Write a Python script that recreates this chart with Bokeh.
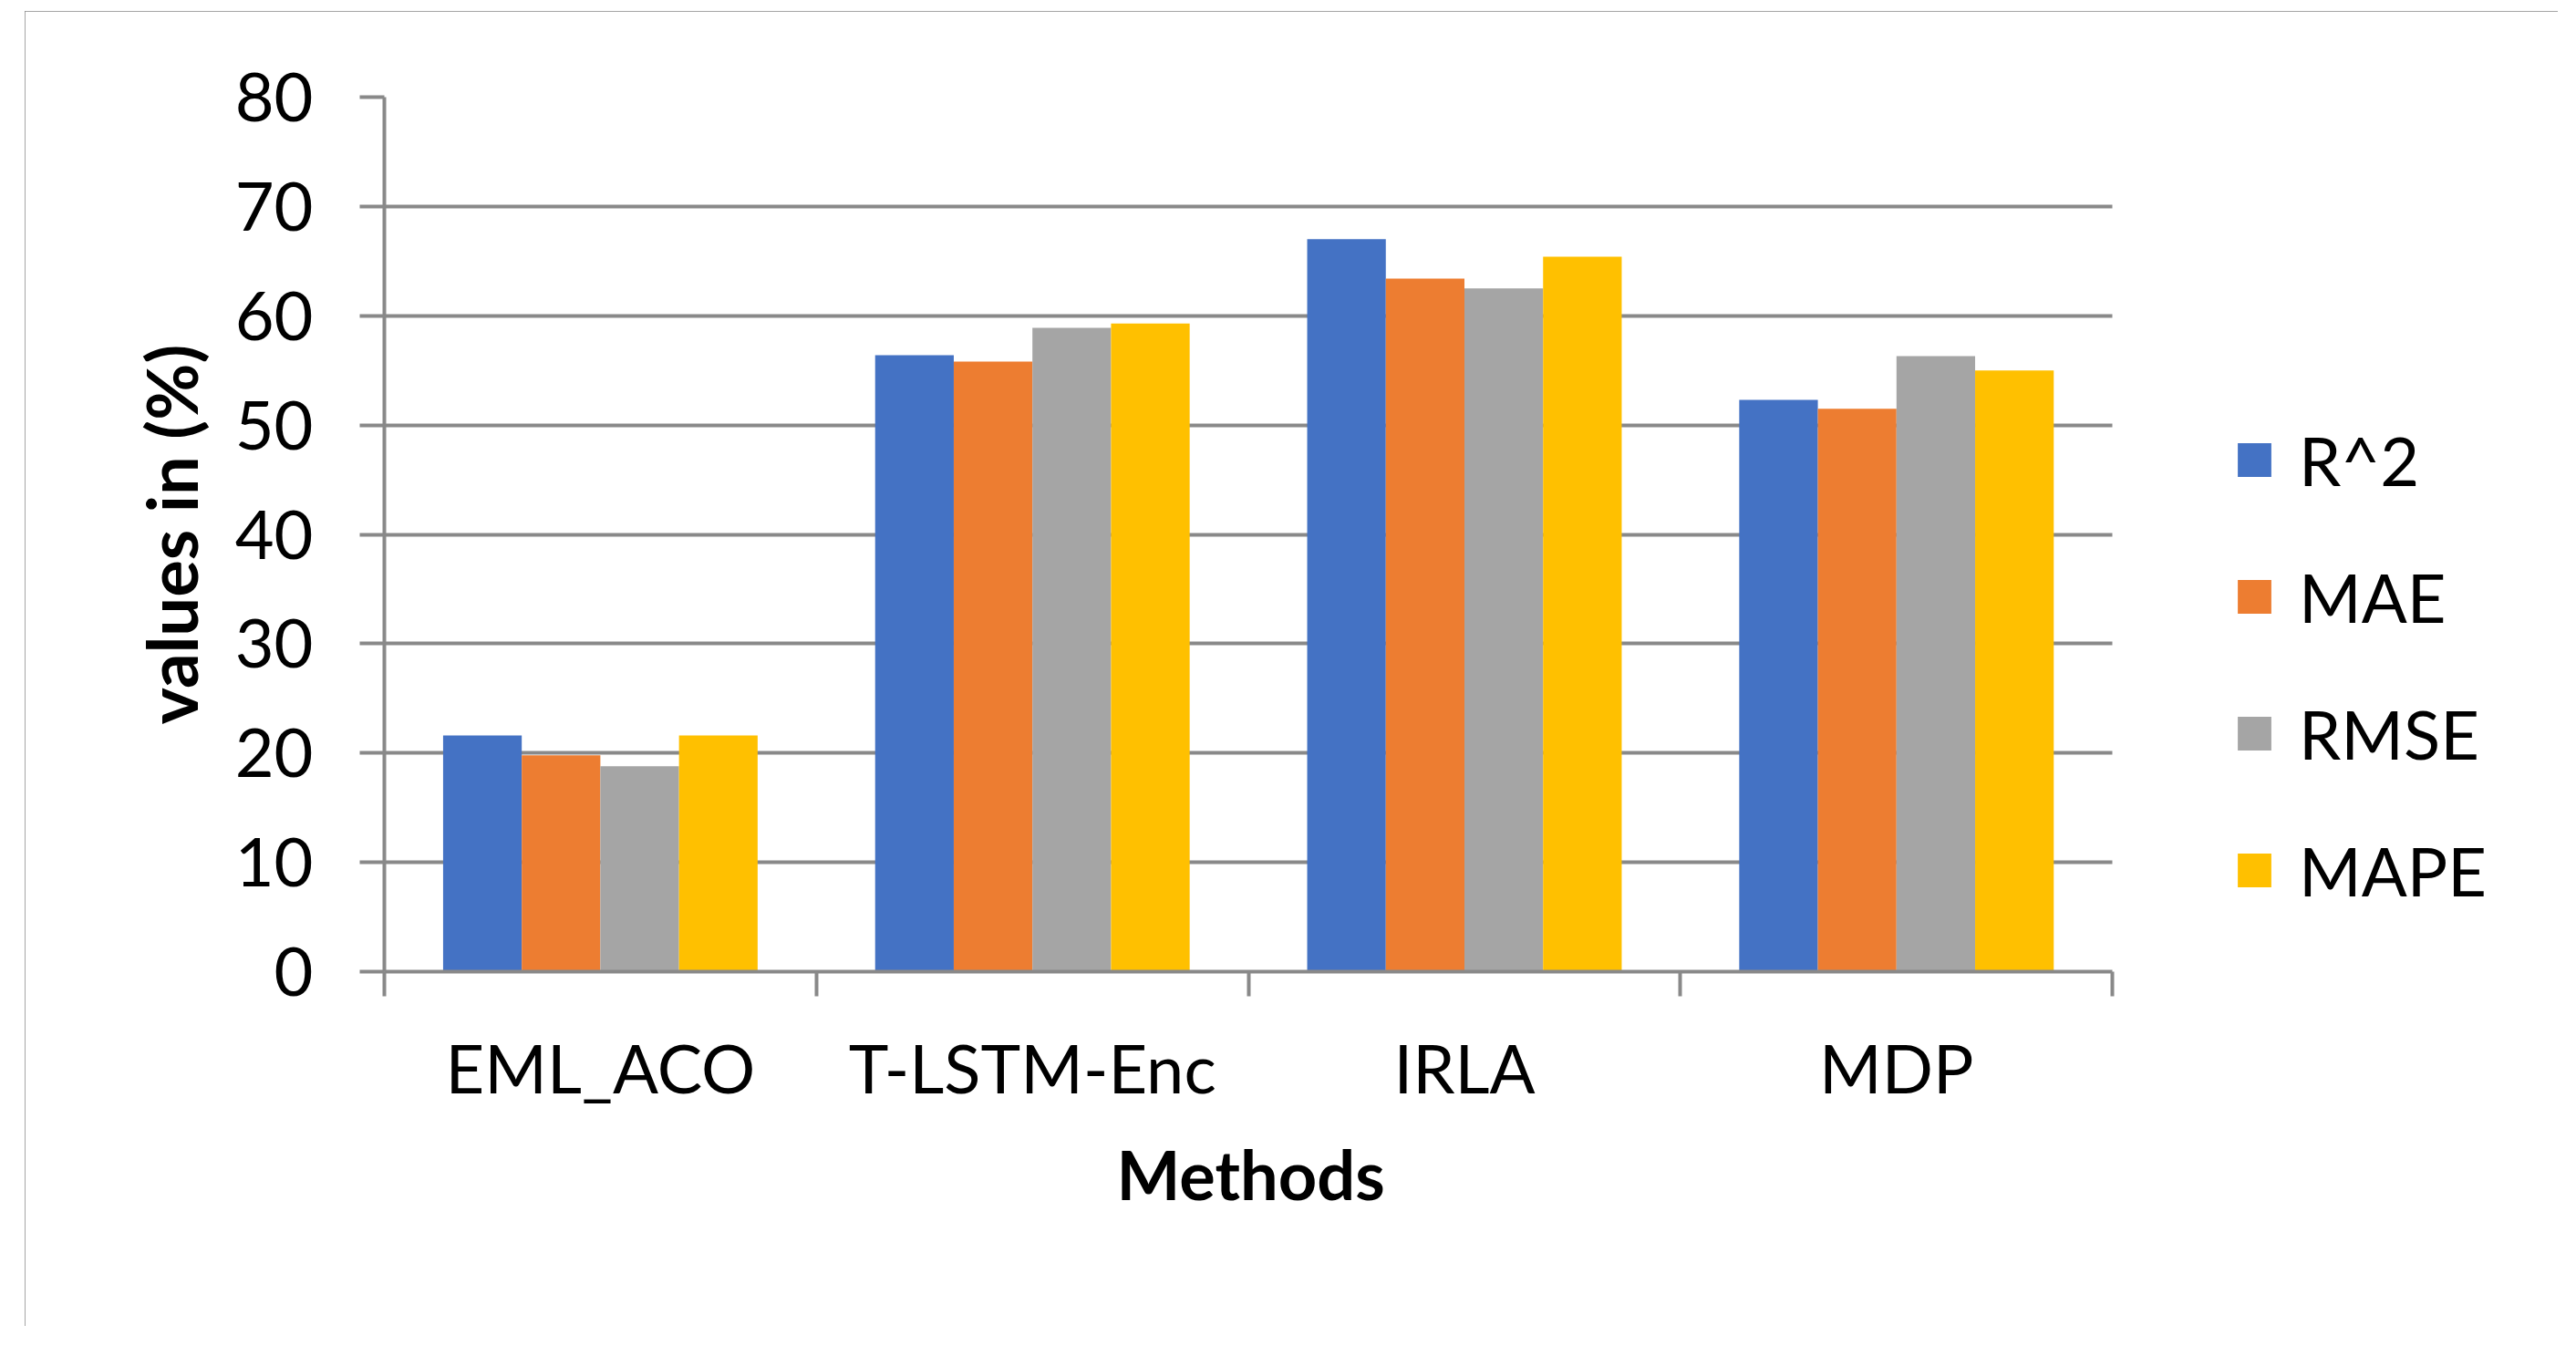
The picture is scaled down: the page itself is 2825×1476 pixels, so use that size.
import numpy as np
from bokeh.plotting import figure
from bokeh.models import Range1d, FixedTicker, Legend, LegendItem, Title
from bokeh.embed import file_html
from bokeh.resources import INLINE

# ---- data ----
methods = ["EML_ACO", "T-LSTM-Enc", "IRLA", "MDP"]
series_names = ["R^2", "MAE", "RMSE", "MAPE"]
r2_vals = [21.6, 56.4, 67.0, 52.3]
mae_vals = [19.8, 55.8, 63.4, 51.5]
rmse_vals = [18.8, 58.9, 62.5, 56.3]
mape_vals = [21.6, 59.3, 65.4, 55.0]
y_ticks = [0, 10, 20, 30, 40, 50, 60, 70, 80]
x_label = "Methods"
y_label = "values in (%)"

# ---- styles ----
colors = ["#4472C4", "#ED7D31", "#A5A5A5", "#FFC000"]
GRAY = "#898989"
FONT = "Lato"
FS = "74px"
bar_w = 0.182
n_cat = len(methods)

# frame spans the legend area too; grid and x axis are bounded to the categories
p = figure(width=2778, height=1442,
           x_range=Range1d(0, 5.0), y_range=Range1d(0, 80),
           output_backend="svg", toolbar_location=None,
           min_border_left=394, min_border_right=15,
           min_border_top=94, min_border_bottom=389)
p.margin = (12, 0, 0, 27)
p.styles = {"outline": "5px solid " + GRAY, "outline-offset": "-5px"}
p.outline_line_color = None
p.background_fill_color = "white"
p.border_fill_color = "white"

all_vals = [r2_vals, mae_vals, rmse_vals, mape_vals]
centers = np.arange(n_cat) + 0.5
renderers = []
for j, (vals, col) in enumerate(zip(all_vals, colors)):
    xs = centers + (j - (len(all_vals) - 1) / 2) * bar_w
    r = p.vbar(x=xs, top=vals, width=bar_w, fill_color=col, line_color=None)
    renderers.append(r)

# grid
p.xgrid.visible = False
p.ygrid.ticker = FixedTicker(ticks=y_ticks)
p.ygrid.grid_line_color = GRAY
p.ygrid.grid_line_width = 4
p.ygrid.cross_bounds = (0, n_cat)

# y axis
ya = p.yaxis[0]
ya.ticker = FixedTicker(ticks=y_ticks)
ya.axis_line_color = GRAY
ya.axis_line_width = 4
ya.major_tick_line_color = GRAY
ya.major_tick_line_width = 4
ya.major_tick_out = 27
ya.major_tick_in = 0
ya.minor_tick_line_color = None
ya.major_label_text_font = FONT
ya.major_label_text_font_size = FS
ya.major_label_text_color = "black"
ya.major_label_standoff = 51
ya.axis_label = y_label
ya.axis_label_text_font = FONT
ya.axis_label_text_font_size = "76px"
ya.axis_label_text_font_style = "bold"
ya.axis_label_text_color = "black"
ya.axis_label_standoff = 22

# x axis
xa = p.xaxis[0]
xa.bounds = (0, n_cat)
xa.ticker = FixedTicker(ticks=list(centers), minor_ticks=list(range(n_cat + 1)))
xa.major_label_overrides = {float(c): m for c, m in zip(centers, methods)}
xa.axis_line_color = GRAY
xa.axis_line_width = 4
xa.major_tick_line_color = None
xa.major_tick_out = 0
xa.major_tick_in = 0
xa.minor_tick_line_color = GRAY
xa.minor_tick_line_width = 4
xa.minor_tick_out = 27
xa.minor_tick_in = 0
xa.major_label_text_font = FONT
xa.major_label_text_font_size = FS
xa.major_label_text_color = "black"
xa.major_label_standoff = 33

# x-axis title, centred under the category span (not the whole frame)
x_title = Title(text=x_label, align="left", offset=803, standoff=47,
                text_font=FONT, text_font_size=FS, text_font_style="bold",
                text_color="black")
p.add_layout(x_title, "below")

legend = Legend(
    items=[LegendItem(label=n, renderers=[r]) for n, r in zip(series_names, renderers)],
    location=(2028, 61), orientation="vertical",
    glyph_width=46, glyph_height=46, label_standoff=26, label_height=100,
    label_text_font=FONT, label_text_font_size=FS, label_text_color="black",
    spacing=50, padding=0, margin=0,
    border_line_color=None, background_fill_alpha=0,
)
p.add_layout(legend)

open("out.html", "w").write(file_html(p, INLINE))
